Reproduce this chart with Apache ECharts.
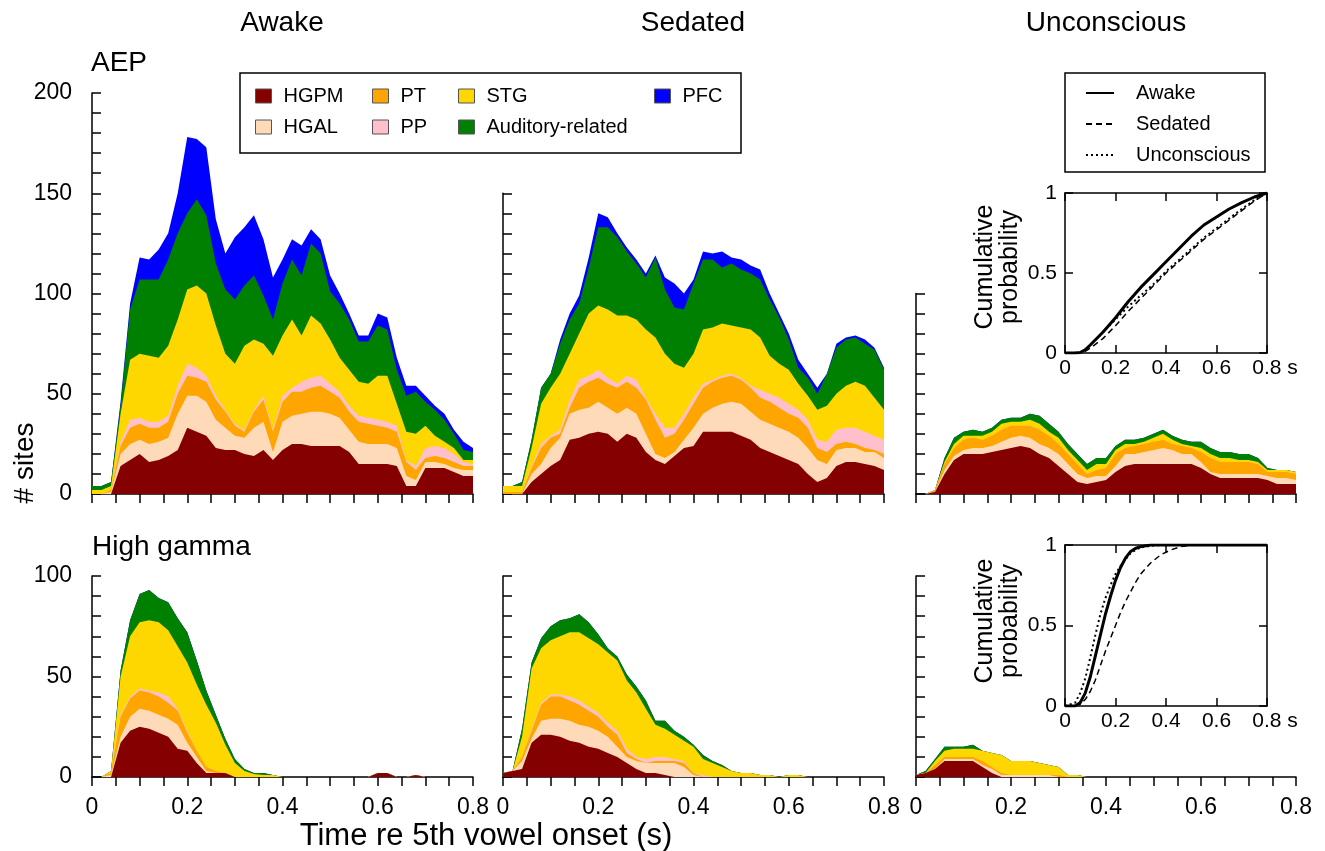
<!DOCTYPE html>
<html>
<head>
<meta charset="utf-8">
<title>AEP / high gamma responsive sites</title>
<script src="https://cdn.jsdelivr.net/npm/echarts@6.0.0/dist/echarts.min.js"></script>
<style>
    html, body { margin: 0; padding: 0; background: #fff; }
    #chart { width: 1325px; height: 851px; }
</style>
</head>
<body>
<div id="chart"></div>
<script>
// time re 5th vowel onset (s)
var times = [
    0, 0.02, 0.04, 0.06, 0.08, 0.10, 0.12, 0.14, 0.16, 0.18,
    0.20, 0.22, 0.24, 0.26, 0.28, 0.30, 0.32, 0.34, 0.36, 0.38,
    0.40, 0.42, 0.44, 0.46, 0.48, 0.50, 0.52, 0.54, 0.56, 0.58,
    0.60, 0.62, 0.64, 0.66, 0.68, 0.70, 0.72, 0.74, 0.76, 0.78,
    0.80
];
var regions = ['HGPM', 'HGAL', 'PT', 'PP', 'STG', 'Auditory-related', 'PFC'];
var regionColors = ['#850000', '#FFDAB9', '#FFA500', '#FFC0CB', '#FFD700', '#008000', '#0000FF'];

var none = [0,0,0,0,0,0,0,0,0,0, 0,0,0,0,0,0,0,0,0,0, 0,0,0,0,0,0,0,0,0,0, 0,0,0,0,0,0,0,0,0,0, 0];

// # sites per region (rows in the order of regions), AEP
var aepAwake = [
    [0,0,0,14,17,20,16,17,19,22, 33,31,29,23,22,22,20,19,22,17, 22,25,25,24,24,24,24,21,15,15, 15,15,14,4,4,13,13,13,11,9, 9],
    [0,0,1,6,8,7,9,9,9,18, 16,18,17,14,11,7,8,14,14,4, 14,14,15,17,17,16,14,11,11,10, 10,10,9,5,3,3,3,2,2,3, 3],
    [0,0,1,4,8,8,8,7,8,10, 10,9,10,10,8,5,3,8,11,10, 10,12,11,12,13,11,10,9,10,10, 9,8,8,7,5,2,3,3,3,2, 2],
    [0,0,0,2,4,3,3,3,3,4, 6,5,3,2,1,1,1,1,2,1, 3,2,5,5,5,4,3,3,3,3, 3,3,3,1,2,5,5,5,4,2, 1],
    [2,2,2,14,30,32,33,32,35,33, 37,41,41,35,28,30,42,35,26,37, 30,34,23,31,26,22,17,18,17,17, 22,23,11,14,16,11,5,3,3,1, 2],
    [2,2,2,4,25,37,38,39,43,43, 38,43,39,31,32,32,30,32,24,18, 26,30,30,36,35,24,27,25,20,21, 25,23,17,18,21,12,13,11,7,5, 4],
    [0,0,0,2,3,11,10,15,13,20, 38,30,34,22,18,31,29,30,28,21, 12,10,15,7,7,8,5,3,3,3, 6,6,6,5,3,3,2,3,2,4, 2]
];
var aepSedated = [
    [0,0,0,6,10,14,17,27,28,30, 31,30,26,30,28,21,17,15,19,23, 24,31,31,31,31,29,27,23,21,19, 17,15,10,6,8,14,16,16,15,14, 12],
    [0,0,0,4,5,9,11,13,14,13, 15,13,14,13,12,9,3,3,2,4, 9,9,12,14,15,16,14,14,14,14, 14,13,13,11,7,8,7,7,6,7, 6],
    [1,1,1,3,8,5,2,3,11,13, 12,12,13,13,13,17,17,10,9,10, 12,13,13,13,13,12,12,11,11,10, 9,10,10,6,6,3,3,2,2,1, 2],
    [0,0,0,1,2,1,2,4,4,3, 4,3,2,3,4,1,3,5,3,3, 3,2,1,1,1,1,1,4,4,5, 5,4,4,4,5,7,7,8,8,7, 7],
    [3,3,3,9,20,24,28,23,23,31, 32,34,34,30,30,34,38,37,32,23, 22,27,26,26,24,25,28,26,19,17, 17,13,12,15,18,18,21,23,23,19, 15],
    [0,0,2,4,8,7,15,17,15,23, 39,41,39,32,28,26,40,32,28,29, 35,35,34,28,31,29,28,29,28,23, 15,8,9,8,16,23,23,22,21,24, 20],
    [0,0,0,0,0,0,2,3,4,5, 7,5,2,2,2,2,1,6,12,8, 2,4,3,8,3,5,4,5,3,2, 3,4,2,3,0,2,1,1,2,1, 1]
];
var aepUncon = [
    [0,0,1,10,17,20,20,20,21,22, 23,24,23,20,18,14,10,6,5,6, 7,11,14,15,15,15,15,15,15,15, 13,10,8,8,8,8,8,7,5,5, 5],
    [0,0,0,2,2,2,3,3,3,4, 5,5,5,5,5,6,5,4,3,3, 2,3,6,5,6,7,8,7,5,5, 3,1,2,2,2,2,2,2,3,3, 2],
    [0,0,1,3,4,5,5,4,5,6, 6,5,6,7,6,5,5,5,2,3, 4,6,3,4,4,4,4,3,4,3, 5,7,6,6,6,6,5,2,3,3, 3],
    none,
    [0,0,0,1,2,2,1,2,2,3, 2,2,3,3,2,3,2,2,2,3, 2,2,2,1,1,2,3,2,1,1, 2,2,2,2,1,1,1,1,1,1, 1],
    [0,0,0,2,3,2,3,2,2,2, 2,2,3,4,4,3,3,3,3,3, 3,2,2,2,2,2,2,2,2,2, 3,3,3,3,3,3,2,1,0,0, 0],
    none
];

// # sites per region, high gamma
var hgAwake = [
    [0,0,0,17,23,25,24,22,20,14, 13,7,2,2,2,0,0,0,0,0, 0,0,0,0,0,0,0,0,0,0, 2,2,0,0,1,0,0,0,0,0, 0],
    [0,0,1,3,7,9,9,9,9,12, 4,3,1,0,0,0,0,0,0,0, 0,0,0,0,0,0,0,0,0,0, 0,0,0,0,0,0,0,0,0,0, 0],
    [0,0,1,10,9,9,9,9,8,7, 5,3,2,1,0,0,0,0,0,0, 0,0,0,0,0,0,0,0,0,0, 0,0,0,0,0,0,0,0,0,0, 0],
    [0,0,0,1,1,1,1,2,3,1, 1,0,0,0,0,0,0,0,0,0, 0,0,0,0,0,0,0,0,0,0, 0,0,0,0,0,0,0,0,0,0, 0],
    [0,0,1,19,30,33,35,35,33,31, 34,33,31,24,14,7,3,1.5,1,1, 0,0,0,0,0,0,0,0,0,0, 0,0,0,0,0,0,0,0,0,0, 0],
    [0,0,0,3,8,14,15,12,14,14, 15,12,7,4,3,2,1,0.5,1,0, 0,0,0,0,0,0,0,0,0,0, 0,0,0,0,0,0,0,0,0,0, 0],
    none
];
var hgSedated = [
    [2,3,4,17,21,21,20,18,17,15, 14,12,10,7,4,2,2,1,0,0, 0,0,0,0,0,0,0,0,0,0, 0,0,0,0,0,0,0,0,0,0, 0],
    [0,0,4,2,7,8,9,10,9,10, 9,8,5,3,4,5,5,6,7,5, 1,0,0,0,0,0,0,0,0,0, 0,0,0,0,0,0,0,0,0,0, 0],
    [0,0,2,4,8,11,11,10,10,8, 7,5,6,2,1,0,1,1,1,2, 1,0,0,0,0,0,0,0,0,0, 0,0,0,0,0,0,0,0,0,0, 0],
    [0,0,0,1,1,1,1,2,2,2, 2,2,2,2,1,2,2,2,1,1, 0,1,0,0,0,0,0,0,0,0, 0,0,0,0,0,0,0,0,0,0, 0],
    [0,0,10,30,27,27,29,32,34,34, 34,35,35,34,32,25,16,14,12,10, 13,8,7,5,3,2,2,1,1,0, 1,1,0,0,0,0,0,0,0,0, 0],
    [0,0,4,3,5,7,8,7,9,8, 5,2,2,3,3,4,2,4,2,2, 1,2,1,1,0,0,0,0,0,0, 0,0,0,0,0,0,0,0,0,0, 0],
    none
];
var hgUncon = [
    [1,2,4,8,8,8,8,5,2,0, 0,0,0,0,0,0,0,0,0,0, 0,0,0,0,0,0,0,0,0,0, 0,0,0,0,0,0,0,0,0,0, 0],
    [0,0,0,1,1,1,1,1,2,1, 1,1,1,1,1,0,0,0,0,0, 0,0,0,0,0,0,0,0,0,0, 0,0,0,0,0,0,0,0,0,0, 0],
    [0,0,2,1,1,1,1,2,1,1, 0,0,0,0,0,1,0,0,0,0, 0,0,0,0,0,0,0,0,0,0, 0,0,0,0,0,0,0,0,0,0, 0],
    none,
    [0,0,2,3,4,4,4,5,7,9, 7,7,7,6,5,4,1,1,0,0, 0,0,0,0,0,0,0,0,0,0, 0,0,0,0,0,0,0,0,0,0, 0],
    [0,1,1,2,1,1,2,0,0,0, 0,0,0,0,0,0,0,0,0,0, 0,0,0,0,0,0,0,0,0,0, 0,0,0,0,0,0,0,0,0,0, 0],
    none
];

// cumulative probability insets
var states = ['Awake', 'Sedated', 'Unconscious'];
var cdfAepT = [0, 0.04, 0.06, 0.08, 0.1, 0.15, 0.2, 0.25, 0.3, 0.35, 0.4, 0.45, 0.5, 0.55, 0.6, 0.65, 0.7, 0.75, 0.8];
var cdfAepAwake = [0, 0, 0.003, 0.02, 0.05, 0.13, 0.22, 0.32, 0.41, 0.49, 0.57, 0.65, 0.73, 0.80, 0.85, 0.90, 0.94, 0.975, 1];
var cdfAepSedated = [0, 0, 0, 0.01, 0.03, 0.09, 0.17, 0.26, 0.34, 0.42, 0.50, 0.57, 0.64, 0.71, 0.77, 0.83, 0.89, 0.95, 1];
var cdfAepUncon = [0, 0, 0.003, 0.02, 0.05, 0.13, 0.21, 0.29, 0.36, 0.43, 0.51, 0.58, 0.65, 0.72, 0.78, 0.84, 0.90, 0.955, 1];
var cdfHgT = [0, 0.04, 0.06, 0.08, 0.1, 0.12, 0.14, 0.16, 0.18, 0.2, 0.22, 0.24, 0.26, 0.28, 0.3, 0.34, 0.38, 0.42, 0.46, 0.5, 0.6, 0.7, 0.8];
var cdfHgAwake = [0, 0, 0.02, 0.08, 0.18, 0.31, 0.44, 0.57, 0.68, 0.78, 0.86, 0.92, 0.96, 0.98, 0.99, 1, 1, 1, 1, 1, 1, 1, 1];
var cdfHgSedated = [0, 0, 0.01, 0.04, 0.09, 0.16, 0.25, 0.34, 0.42, 0.50, 0.58, 0.65, 0.71, 0.77, 0.82, 0.89, 0.94, 0.97, 0.99, 1, 1, 1, 1];
var cdfHgUncon = [0, 0.02, 0.08, 0.17, 0.30, 0.44, 0.57, 0.67, 0.75, 0.82, 0.87, 0.91, 0.95, 0.97, 0.985, 0.995, 1, 1, 1, 1, 1, 1, 1];

var FONT = 'Liberation Sans, Arial, sans-serif';
var panelData = [aepAwake, aepSedated, aepUncon, hgAwake, hgSedated, hgUncon];
var panelLayout = [
    {left: 92, top: 93, width: 381, height: 401, yMax: 200, yLabels: true, xLabels: false},
    {left: 503, top: 193.25, width: 381, height: 300.75, yMax: 150, yLabels: false, xLabels: false},
    {left: 916, top: 293.5, width: 380, height: 200.5, yMax: 100, yLabels: false, xLabels: false},
    {left: 92, top: 576, width: 381, height: 201, yMax: 100, yLabels: true, xLabels: true},
    {left: 503, top: 576, width: 381, height: 201, yMax: 100, yLabels: false, xLabels: true},
    {left: 916, top: 576, width: 380, height: 201, yMax: 100, yLabels: false, xLabels: true}
];
var insetLayout = [
    {left: 1065, top: 193, width: 202, height: 160},
    {left: 1065, top: 545, width: 202, height: 161}
];
var lineStyles = [
    {color: '#000', width: 3, type: 'solid'},
    {color: '#000', width: 1.5, type: [6, 4]},
    {color: '#000', width: 2, type: [2, 3]}
];

var axisLineStyle = {color: '#000', width: 1.5};

function label02(v) {
    var r = Math.round(v * 5);
    return Math.abs(v * 5 - r) < 1e-6 ? String(r / 5) : '';
}
function label50(v) {
    return v % 50 === 0 ? String(v) : '';
}

var grids = [], xAxes = [], yAxes = [], series = [];

panelLayout.forEach(function (p, g) {
    grids.push({left: p.left, top: p.top, width: p.width, height: p.height});
    xAxes.push({
        gridIndex: g, type: 'value', min: 0, max: 0.8, interval: 0.05,
        axisLine: {show: true, onZero: false, lineStyle: axisLineStyle},
        axisTick: {show: true, inside: false, length: 9, lineStyle: axisLineStyle},
        axisLabel: {show: p.xLabels, formatter: label02, fontSize: 23, color: '#000', fontFamily: FONT, margin: 19},
        splitLine: {show: false}
    });
    yAxes.push({
        gridIndex: g, type: 'value', min: 0, max: p.yMax, interval: 10,
        axisLine: {show: true, onZero: false, lineStyle: axisLineStyle},
        axisTick: {show: true, inside: true, length: 9, lineStyle: axisLineStyle},
        axisLabel: {show: p.yLabels, formatter: label50, fontSize: 23, color: '#000', fontFamily: FONT, margin: 20},
        splitLine: {show: false}
    });
    // running totals, so every layer is filled from 0 and the upper ones are painted first
    var rows = panelData[g];
    var cum = [];
    rows.forEach(function (vals, r) {
        cum.push(vals.map(function (v, i) { return v + (r > 0 ? cum[r - 1][i] : 0); }));
    });
    for (var r = rows.length - 1; r >= 0; r--) {
        series.push({
            type: 'line', name: regions[r], xAxisIndex: g, yAxisIndex: g,
            symbol: 'none', silent: true,
            data: times.map(function (t, i) { return [t, cum[r][i]]; }),
            lineStyle: {width: 0},
            itemStyle: {color: regionColors[r]},
            areaStyle: {color: regionColors[r], opacity: 1}
        });
    }
});

// insets: grid 6 (AEP) and 7 (high gamma), each with a closed frame of axes
var cdfSets = [
    {t: cdfAepT, lines: [cdfAepAwake, cdfAepSedated, cdfAepUncon]},
    {t: cdfHgT, lines: [cdfHgAwake, cdfHgSedated, cdfHgUncon]}
];
insetLayout.forEach(function (p, k) {
    var g = grids.length;
    grids.push({left: p.left, top: p.top, width: p.width, height: p.height});
    var xi = xAxes.length, yi = yAxes.length;
    xAxes.push({
        gridIndex: g, type: 'value', min: 0, max: 0.8, interval: 0.2, position: 'bottom',
        axisLine: {show: true, onZero: false, lineStyle: axisLineStyle},
        axisTick: {show: true, inside: true, length: 8, lineStyle: axisLineStyle},
        axisLabel: {
            fontSize: 21, color: '#000', fontFamily: FONT, margin: 5,
            formatter: function (v) {
                return Math.abs(v - 0.8) < 1e-6 ? '{s|0.8 s}' : String(Math.round(v * 5) / 5);
            },
            rich: {s: {fontSize: 21, color: '#000', fontFamily: FONT, padding: [0, 0, 0, 16]}}
        },
        splitLine: {show: false}
    });
    xAxes.push({
        gridIndex: g, type: 'value', min: 0, max: 0.8, interval: 0.2, position: 'top',
        axisLine: {show: true, onZero: false, lineStyle: axisLineStyle},
        axisTick: {show: true, inside: true, length: 8, lineStyle: axisLineStyle},
        axisLabel: {show: false}, splitLine: {show: false}
    });
    yAxes.push({
        gridIndex: g, type: 'value', min: 0, max: 1, interval: 0.5, position: 'left',
        axisLine: {show: true, onZero: false, lineStyle: axisLineStyle},
        axisTick: {show: true, inside: true, length: 8, lineStyle: axisLineStyle},
        axisLabel: {fontSize: 21, color: '#000', fontFamily: FONT, margin: 8},
        splitLine: {show: false}
    });
    yAxes.push({
        gridIndex: g, type: 'value', min: 0, max: 1, interval: 0.5, position: 'right',
        axisLine: {show: true, onZero: false, lineStyle: axisLineStyle},
        axisTick: {show: true, inside: true, length: 8, lineStyle: axisLineStyle},
        axisLabel: {show: false}, splitLine: {show: false}
    });
    var set = cdfSets[k];
    set.lines.forEach(function (vals, s) {
        series.push({
            type: 'line', name: states[s], xAxisIndex: xi, yAxisIndex: yi,
            symbol: 'none', silent: true, z: 5 - s,
            data: set.t.map(function (t, i) { return [t, vals[i]]; }),
            itemStyle: {color: '#000'},
            lineStyle: lineStyles[s]
        });
    });
});

var legendText = {fontSize: 20, color: '#000', fontFamily: FONT, padding: [0, 0, 0, 7]};
function regionLegend(names, left) {
    return {
        data: names, orient: 'vertical', left: left, top: 86, padding: 0,
        itemWidth: 16, itemHeight: 14, itemGap: 11, icon: 'rect',
        selectedMode: false, textStyle: legendText,
        itemStyle: {borderColor: '#555', borderWidth: 1}
    };
}

var option = {
    animation: false,
    grid: grids,
    xAxis: xAxes,
    yAxis: yAxes,
    series: series,
    legend: [
        regionLegend(['HGPM', 'HGAL'], 255),
        regionLegend(['PT', 'PP'], 372),
        regionLegend(['STG', 'Auditory-related'], 458),
        regionLegend(['PFC'], 654),
        {
            data: states, orient: 'vertical', left: 1085, top: 83, padding: 0,
            itemWidth: 28, itemHeight: 14, itemGap: 11, selectedMode: false,
            itemStyle: {opacity: 0},
            textStyle: {fontSize: 20, color: '#000', fontFamily: FONT, padding: [0, 0, 0, 17]}
        }
    ],
    graphic: [
        {type: 'rect', shape: {x: 240, y: 73, width: 501, height: 80}, style: {fill: 'none', stroke: '#000', lineWidth: 1.5}},
        {type: 'rect', shape: {x: 1065, y: 73, width: 200, height: 99}, style: {fill: 'none', stroke: '#000', lineWidth: 1.5}},
        {type: 'text', x: 282, y: 23, style: {text: 'Awake', align: 'center', verticalAlign: 'middle', fontSize: 28, fontFamily: FONT, fill: '#000'}},
        {type: 'text', x: 693, y: 23, style: {text: 'Sedated', align: 'center', verticalAlign: 'middle', fontSize: 28, fontFamily: FONT, fill: '#000'}},
        {type: 'text', x: 1106, y: 23, style: {text: 'Unconscious', align: 'center', verticalAlign: 'middle', fontSize: 28, fontFamily: FONT, fill: '#000'}},
        {type: 'text', x: 91, y: 63, style: {text: 'AEP', align: 'left', verticalAlign: 'middle', fontSize: 28, fontFamily: FONT, fill: '#000'}},
        {type: 'text', x: 92, y: 547, style: {text: 'High gamma', align: 'left', verticalAlign: 'middle', fontSize: 28, fontFamily: FONT, fill: '#000'}},
        {type: 'text', x: 25, y: 463, rotation: Math.PI / 2, style: {text: '# sites', align: 'center', verticalAlign: 'middle', fontSize: 28, fontFamily: FONT, fill: '#000'}},
        {type: 'text', x: 486, y: 836, style: {text: 'Time re 5th vowel onset (s)', align: 'center', verticalAlign: 'middle', fontSize: 31, fontFamily: FONT, fill: '#000'}},
        {type: 'text', x: 998, y: 267, rotation: Math.PI / 2, style: {text: 'Cumulative\nprobability', align: 'center', verticalAlign: 'middle', fontSize: 25, lineHeight: 25, fontFamily: FONT, fill: '#000'}},
        {type: 'text', x: 998, y: 621, rotation: Math.PI / 2, style: {text: 'Cumulative\nprobability', align: 'center', verticalAlign: 'middle', fontSize: 25, lineHeight: 25, fontFamily: FONT, fill: '#000'}}
    ]
};

var chart = echarts.init(document.getElementById('chart'), null, {renderer: 'canvas'});
chart.setOption(option);
</script>
</body>
</html>
